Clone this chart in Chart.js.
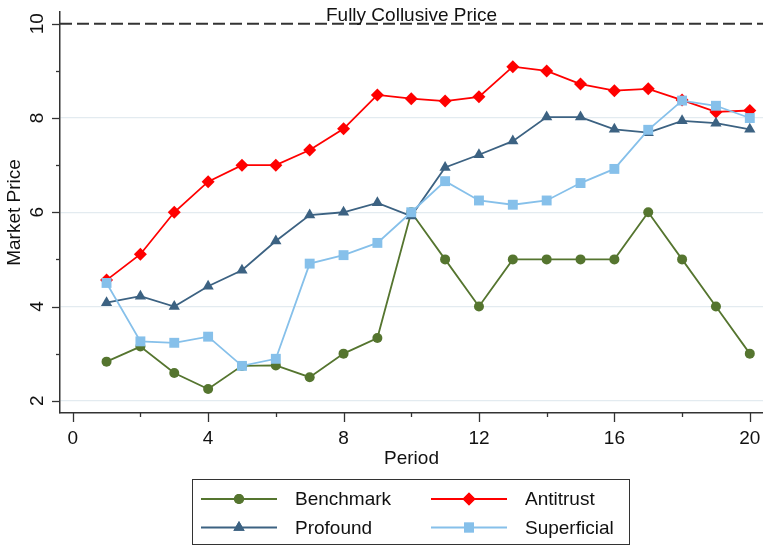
<!DOCTYPE html>
<html>
<head>
<meta charset="utf-8">
<script src="https://cdn.jsdelivr.net/npm/chart.js@4.4.1/dist/chart.umd.min.js"></script>
<style>
html,body{margin:0;padding:0;background:#fff;}
#wrap{width:763px;height:548px;}
</style>
</head>
<body>
<div id="wrap"><canvas id="c" width="763" height="548"></canvas></div>
<script>
// ---- data ----
const periods = [1,2,3,4,5,6,7,8,9,10,11,12,13,14,15,16,17,18,19,20];
const benchmark   = [2.83,3.15,2.59,2.25,2.74,2.75,2.50,3.00,3.33,6.00,5.00,4.00,5.00,5.00,5.00,5.00,6.00,5.00,4.00,3.00];
const antitrust   = [4.56,5.11,6.00,6.65,7.00,7.00,7.32,7.77,8.49,8.41,8.36,8.45,9.09,9.00,8.72,8.58,8.62,8.38,8.13,8.16];
const profound    = [4.08,4.22,4.00,4.43,4.77,5.39,5.94,6.00,6.20,5.92,6.95,7.22,7.51,8.02,8.02,7.76,7.69,7.94,7.89,7.76];
const superficial = [4.50,3.26,3.23,3.36,2.74,2.89,4.91,5.09,5.35,6.00,6.66,6.25,6.16,6.25,6.62,6.92,7.75,8.37,8.26,8.00];
const seriesNames = ['Benchmark','Antitrust','Profound','Superficial'];
const xTickLabels = [0,4,8,12,16,20];
const yTickLabels = [2,4,6,8,10];
const collusivePrice = 10;
const collusiveLabel = 'Fully Collusive Price';
const xTitle = 'Period';
const yTitle = 'Market Price';

const FONT = '"Liberation Sans", Arial, sans-serif';
const colors = ['#55752f', '#ff0000', '#3c6282', '#86c0ea'];
const styles = [
  {pointStyle:'circle', radius:5},
  {pointStyle:'rectRot', radius:6.5},
  {pointStyle:'triangle', radius:6.5},
  {pointStyle:'rect', radius:7}
];
const seriesData = [benchmark, antitrust, profound, superficial];

const datasets = seriesData.map((arr, i) => ({
  label: seriesNames[i],
  data: periods.map((p, j) => ({x: p, y: arr[j]})),
  borderColor: colors[i],
  backgroundColor: colors[i],
  pointBackgroundColor: colors[i],
  pointBorderColor: colors[i],
  pointBorderWidth: 0,
  borderWidth: 1.8,
  pointStyle: styles[i].pointStyle,
  pointRadius: styles[i].radius,
  pointHoverRadius: styles[i].radius,
  tension: 0,
  clip: false,
  order: 4 - i
}));

const overlay = {
  id: 'overlay',
  beforeDatasetsDraw(chart) {
    const {ctx, chartArea: a, scales: {y}} = chart;
    const py = y.getPixelForValue(collusivePrice);
    ctx.save();
    ctx.strokeStyle = '#333';
    ctx.lineWidth = 2;
    ctx.setLineDash([12, 5]);
    ctx.beginPath(); ctx.moveTo(a.left, py); ctx.lineTo(a.right, py); ctx.stroke();
    ctx.setLineDash([]);
    ctx.fillStyle = '#111';
    ctx.font = '19px ' + FONT;
    ctx.textAlign = 'center';
    ctx.textBaseline = 'alphabetic';
    ctx.fillText(collusiveLabel, (a.left + a.right) / 2, py - 2.5);
    ctx.restore();
  },
  afterDraw(chart) {
    const {ctx, chartArea: a, scales: {x, y}} = chart;
    ctx.save();
    ctx.strokeStyle = '#333';
    ctx.lineWidth = 1.3;
    // y ticks
    y.ticks.forEach(t => {
      const py = Math.round(y.getPixelForValue(t.value)) + 0.5;
      const len = yTickLabels.includes(t.value) ? 8 : 4;
      ctx.beginPath(); ctx.moveTo(a.left - len, py); ctx.lineTo(a.left, py); ctx.stroke();
    });
    // x ticks
    x.ticks.forEach(t => {
      const px = Math.round(x.getPixelForValue(t.value)) + 0.5;
      const len = xTickLabels.includes(t.value) ? 9 : 4;
      ctx.beginPath(); ctx.moveTo(px, a.bottom); ctx.lineTo(px, a.bottom + len); ctx.stroke();
    });
    // rotated y tick labels
    ctx.fillStyle = '#111';
    ctx.font = '19px ' + FONT;
    ctx.textAlign = 'center';
    ctx.textBaseline = 'alphabetic';
    yTickLabels.forEach(v => {
      const py = y.getPixelForValue(v);
      ctx.save();
      ctx.translate(43, py);
      ctx.rotate(-Math.PI / 2);
      ctx.fillText(String(v), 0, 0);
      ctx.restore();
    });
    // legend box
    const bx = 192.5, by = 479.5, bw = 437, bh = 65;
    ctx.lineWidth = 1;
    ctx.strokeStyle = '#333';
    ctx.strokeRect(bx, by, bw, bh);
    const cols = [[201, 277, 295], [431, 507, 525]];
    const rows = [499, 527.5];
    chart.data.datasets.forEach((ds, i) => {
      const c = cols[i % 2], r = rows[Math.floor(i / 2)];
      ctx.strokeStyle = ds.borderColor;
      ctx.fillStyle = ds.borderColor;
      ctx.lineWidth = 2;
      ctx.beginPath(); ctx.moveTo(c[0], r); ctx.lineTo(c[1], r); ctx.stroke();
      Chart.helpers.drawPoint(ctx, {pointStyle: ds.pointStyle, radius: ds.pointRadius, rotation: 0, borderWidth: 0}, (c[0] + c[1]) / 2, r);
      ctx.fill();
      ctx.fillStyle = '#111';
      ctx.font = '19px ' + FONT;
      ctx.textAlign = 'left';
      ctx.textBaseline = 'middle';
      ctx.fillText(ds.label, c[2], r + 1);
    });
    ctx.restore();
  }
};

new Chart(document.getElementById('c'), {
  type: 'line',
  data: { datasets },
  options: {
    responsive: false,
    devicePixelRatio: 1,
    animation: false,
    events: [],
    layout: { autoPadding: false, padding: { top: 12, left: 0, right: 0, bottom: 71 } },
    plugins: { legend: { display: false }, tooltip: { enabled: false } },
    scales: {
      x: {
        type: 'linear',
        min: -0.375,
        max: 20.39,
        afterFit: s => { s.height = 64; },
        border: { display: true, color: '#333', width: 1.5 },
        grid: { display: false, drawTicks: true, tickLength: 12 },
        ticks: {
          stepSize: 2,
          includeBounds: false,
          autoSkip: false,
          maxRotation: 0,
          padding: 2,
          color: '#111',
          font: { family: FONT, size: 19 },
          callback: v => xTickLabels.includes(v) ? String(v) : ''
        },
        title: { display: true, text: xTitle, color: '#111', font: { family: FONT, size: 19 }, padding: { top: 0, bottom: 6.5 } }
      },
      y: {
        type: 'linear',
        min: 1.74,
        max: 10.25,
        afterFit: s => { s.width = 60; },
        border: { display: true, color: '#333', width: 1.5 },
        grid: {
          drawTicks: false,
          lineWidth: 1.2,
          color: c => (c.tick && yTickLabels.includes(c.tick.value) && c.tick.value !== collusivePrice) ? '#e3ebf0' : 'rgba(0,0,0,0)'
        },
        ticks: { display: false, stepSize: 1, includeBounds: false, autoSkip: false },
        title: { display: true, text: yTitle, color: '#111', font: { family: FONT, size: 19 }, padding: { top: 3, bottom: 0 } }
      }
    }
  },
  plugins: [overlay]
});
</script>
</body>
</html>
